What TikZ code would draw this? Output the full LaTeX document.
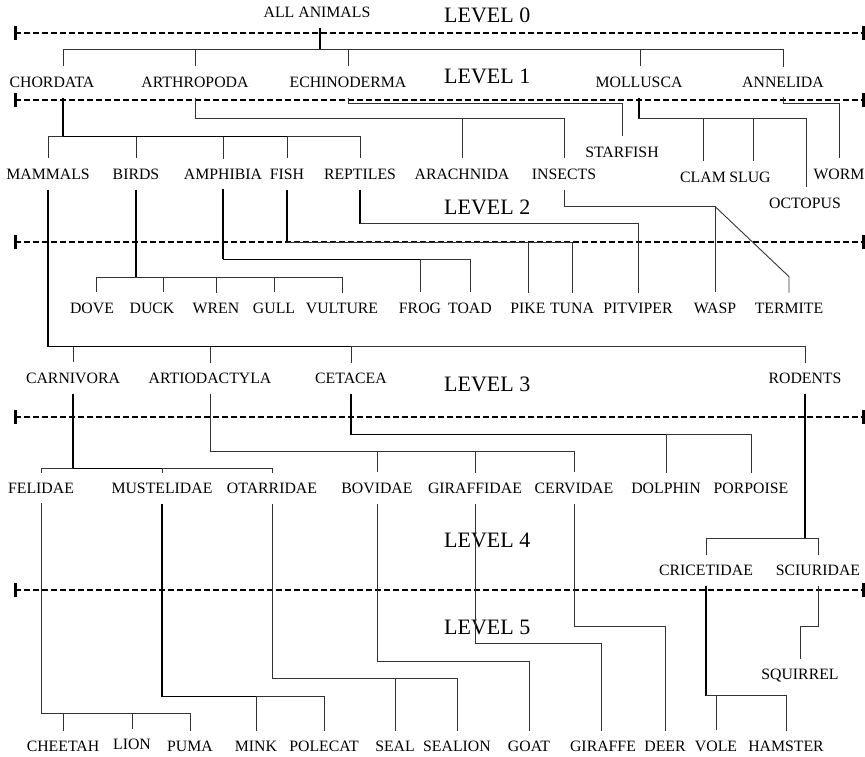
\documentclass[tikz,border=0pt]{standalone}
\usepackage{fontspec}
\setmainfont{Liberation Serif}
\usetikzlibrary{calc}

\begin{document}
\begin{tikzpicture}[x=1pt,y=-1pt,
  taxon/.style={font=\fontsize{15.8}{18}\selectfont, inner xsep=0pt, inner ysep=10pt},
  levname/.style={font=\fontsize{22}{26}\selectfont, anchor=west, inner sep=0pt},
  levline/.style={line width=2.6pt, dash pattern=on 6pt off 3pt},
  levend/.style={line width=3pt},
  link/.style={line width=0.9pt, black!80},
  trunk/.style={line width=1.8pt}]

\useasboundingbox (0,0) rectangle (865,756);

% Level separators
\foreach \y in {33,100,242,417,590} {
  \draw[levline] (15,\y) -- (863,\y);
  \draw[levend] (15,\y-7) -- (15,\y+7);
  \draw[levend] (863,\y-7) -- (863,\y+7);
}

% Level names
\foreach \n/\y in {0/15,1/76,2/207,3/384,4/540,5/627}
  \node[levname] (lev\n) at (444,\y) {LEVEL \n};

% Level 0
\node[taxon] (all) at (317,12) {ALL ANIMALS};

% Level 1
\node[taxon] (chordata) at (52,82) {CHORDATA};
\node[taxon] (arthropoda) at (195,82) {ARTHROPODA};
\node[taxon] (echinoderma) at (348,82) {ECHINODERMA};
\node[taxon] (mollusca) at (639,82) {MOLLUSCA};
\node[taxon] (annelida) at (783,82) {ANNELIDA};

% Level 2
\node[taxon] (mammals) at (48,174) {MAMMALS};
\node[taxon] (birds) at (136,174) {BIRDS};
\node[taxon] (amphibia) at (223,174) {AMPHIBIA};
\node[taxon] (fish) at (287,174) {FISH};
\node[taxon] (reptiles) at (360,174) {REPTILES};
\node[taxon] (arachnida) at (462,174) {ARACHNIDA};
\node[taxon] (insects) at (564,174) {INSECTS};
\node[taxon] (starfish) at (622,152) {STARFISH};
\node[taxon] (clam) at (703,177) {CLAM};
\node[taxon] (slug) at (750,177) {SLUG};
\node[taxon] (octopus) at (805,203) {OCTOPUS};
\node[taxon] (worm) at (839,174) {WORM};

\node[taxon] (dove) at (92,308) {DOVE};
\node[taxon] (duck) at (152,308) {DUCK};
\node[taxon] (wren) at (216,308) {WREN};
\node[taxon] (gull) at (274,308) {GULL};
\node[taxon] (vulture) at (342,308) {VULTURE};
\node[taxon] (frog) at (420,308) {FROG};
\node[taxon] (toad) at (470,308) {TOAD};
\node[taxon] (pike) at (528,308) {PIKE};
\node[taxon] (tuna) at (572,308) {TUNA};
\node[taxon] (pitviper) at (638,308) {PITVIPER};
\node[taxon] (wasp) at (715,308) {WASP};
\node[taxon] (termite) at (789,308) {TERMITE};

% Level 3
\node[taxon] (carnivora) at (73,378) {CARNIVORA};
\node[taxon] (artiodactyla) at (210,378) {ARTIODACTYLA};
\node[taxon] (cetacea) at (351,378) {CETACEA};
\node[taxon] (rodents) at (805,378) {RODENTS};

% Level 4
\node[taxon] (felidae) at (41,488) {FELIDAE};
\node[taxon] (mustelidae) at (162,488) {MUSTELIDAE};
\node[taxon] (otarridae) at (272,488) {OTARRIDAE};
\node[taxon] (bovidae) at (377,488) {BOVIDAE};
\node[taxon] (giraffidae) at (475,488) {GIRAFFIDAE};
\node[taxon] (cervidae) at (574,488) {CERVIDAE};
\node[taxon] (dolphin) at (666,488) {DOLPHIN};
\node[taxon] (porpoise) at (751,488) {PORPOISE};
\node[taxon] (cricetidae) at (706,570) {CRICETIDAE};
\node[taxon] (sciuridae) at (818,570) {SCIURIDAE};

% Level 5
\node[taxon] (squirrel) at (800,676) {SQUIRREL};
\node[taxon] (cheetah) at (63,746) {CHEETAH};
\node[taxon] (lion) at (132,744) {LION};
\node[taxon] (puma) at (190,746) {PUMA};
\node[taxon] (mink) at (256,746) {MINK};
\node[taxon] (polecat) at (324,746) {POLECAT};
\node[taxon] (seal) at (395,746) {SEAL};
\node[taxon] (sealion) at (457,746) {SEALION};
\node[taxon] (goat) at (529,746) {GOAT};
\node[taxon] (giraffe) at (603,746) {GIRAFFE};
\node[taxon] (deer) at (665,746) {DEER};
\node[taxon] (vole) at (716,746) {VOLE};
\node[taxon] (hamster) at (786,746) {HAMSTER};

% ALL ANIMALS -> phyla
\draw[trunk] ($(all.south)+(3,0)$) -- ++(0,22) coordinate (j0);
\foreach \c/\dx in {chordata/11,arthropoda/0,echinoderma/0,mollusca/1,annelida/0}
  \draw[link] (j0) -| ($(\c.north)+(\dx,0)$);

% CHORDATA -> classes
\draw[trunk] ($(chordata.south)+(11,0)$) -- ++(0,39) coordinate (j1);
\foreach \c in {mammals,birds,amphibia,fish,reptiles}
  \draw[link] (j1) -| (\c.north);
\draw[trunk] (j1) -- (j1 -| fish.north);

% ARTHROPODA -> classes
\draw[link] (arthropoda.south) -- ++(0,21) coordinate (j2);
\foreach \c in {arachnida,insects}
  \draw[link] (j2) -| (\c.north);

% ECHINODERMA -> STARFISH
\draw[link] (echinoderma.south) -- ++(0,6) -| (starfish.north);

% MOLLUSCA -> species
\draw[trunk] (mollusca.south) -- ++(0,21) coordinate (j3);
\draw[trunk] (j3) -- (j3 -| octopus.north);
\foreach \c/\dx in {clam/0,slug/3,octopus/1}
  \draw[link] (j3) -| ($(\c.north)+(\dx,0)$);

% ANNELIDA -> WORM
\draw[link] (annelida.south) -- ++(0,6) -| (worm.north);

% MAMMALS -> orders
\draw[trunk] (mammals.south) -- ++(0,157) coordinate (j4);
\foreach \c in {carnivora,artiodactyla,cetacea,rodents}
  \draw[link] (j4) -| (\c.north);
\draw[trunk] (j4) -- (j4 -| cetacea.north);

% BIRDS -> species
\draw[trunk] (birds.south) -- ++(0,88) coordinate (j5);
\foreach \c/\dx in {dove/4,duck/11,wren/0,gull/0,vulture/0}
  \draw[link] (j5) -| ($(\c.north)+(\dx,0)$);

% AMPHIBIA -> species
\draw[trunk] (amphibia.south) -- ++(0,70) coordinate (j6);
\foreach \c in {frog,toad}
  \draw[link] (j6) -| (\c.north);
\draw[trunk] (j6) -- (j6 -| frog.north);

% FISH -> species
\draw[trunk] (fish.south) -- ++(0,53) coordinate (j7);
\foreach \c in {pike,tuna}
  \draw[link] (j7) -| (\c.north);

% REPTILES -> PITVIPER
\draw[trunk] (reptiles.south) -- ++(0,34) coordinate (j8);
\draw[link] (j8) -| (pitviper.north);

% INSECTS -> species
\draw[link] (insects.south) -- ++(0,17) coordinate (j9);
\draw[link] (j9) -| (wasp.north);
\draw[link] (j9 -| wasp.north) -- ($(termite.north)+(0,-16)$) -- (termite.north);

% CARNIVORA -> families
\draw[trunk] (carnivora.south) -- ++(0,75) coordinate (k1);
\foreach \c in {felidae,mustelidae,otarridae}
  \draw[link] (k1) -| (\c.north);
\draw[trunk] (k1) -- (k1 -| mustelidae.north);

% ARTIODACTYLA -> families
\draw[link] (artiodactyla.south) -- ++(0,58) coordinate (k2);
\foreach \c in {bovidae,giraffidae,cervidae}
  \draw[link] (k2) -| (\c.north);

% CETACEA -> species
\draw[trunk] (cetacea.south) -- ++(0,41) coordinate (k3);
\foreach \c in {dolphin,porpoise}
  \draw[link] (k3) -| (\c.north);
\draw[trunk] (k3) -- (k3 -| dolphin.north);

% RODENTS -> families
\draw[trunk] (rodents.south) -- ++(0,145) coordinate (k4);
\foreach \c in {cricetidae,sciuridae}
  \draw[link] (k4) -| (\c.north);

% FELIDAE -> species
\draw[link] (felidae.south) -- ++(0,210) coordinate (m1);
\foreach \c in {cheetah,lion,puma}
  \draw[link] (m1) -| (\c.north);

% MUSTELIDAE -> species
\draw[trunk] (mustelidae.south) -- ++(0,193) coordinate (m2);
\foreach \c in {mink,polecat}
  \draw[link] (m2) -| (\c.north);
\draw[trunk] (m2) -- (m2 -| mink.north);

% OTARRIDAE -> species
\draw[link] (otarridae.south) -- ++(0,175) coordinate (m3);
\foreach \c in {seal,sealion}
  \draw[link] (m3) -| (\c.north);

% single species below
\draw[link] (bovidae.south) -- ++(0,158) -| (goat.north);
\draw[link] (giraffidae.south) -- ++(0,140) -| ($(giraffe.north)+(-2,0)$);
\draw[link] (cervidae.south) -- ++(0,123) -| (deer.north);

% CRICETIDAE -> species
\draw[trunk] (cricetidae.south) -- ++(0,110) coordinate (m4);
\foreach \c in {vole,hamster}
  \draw[link] (m4) -| (\c.north);

% SCIURIDAE -> SQUIRREL
\draw[link] (sciuridae.south) -- ++(0,41) -| (squirrel.north);
\end{tikzpicture}
\end{document}
